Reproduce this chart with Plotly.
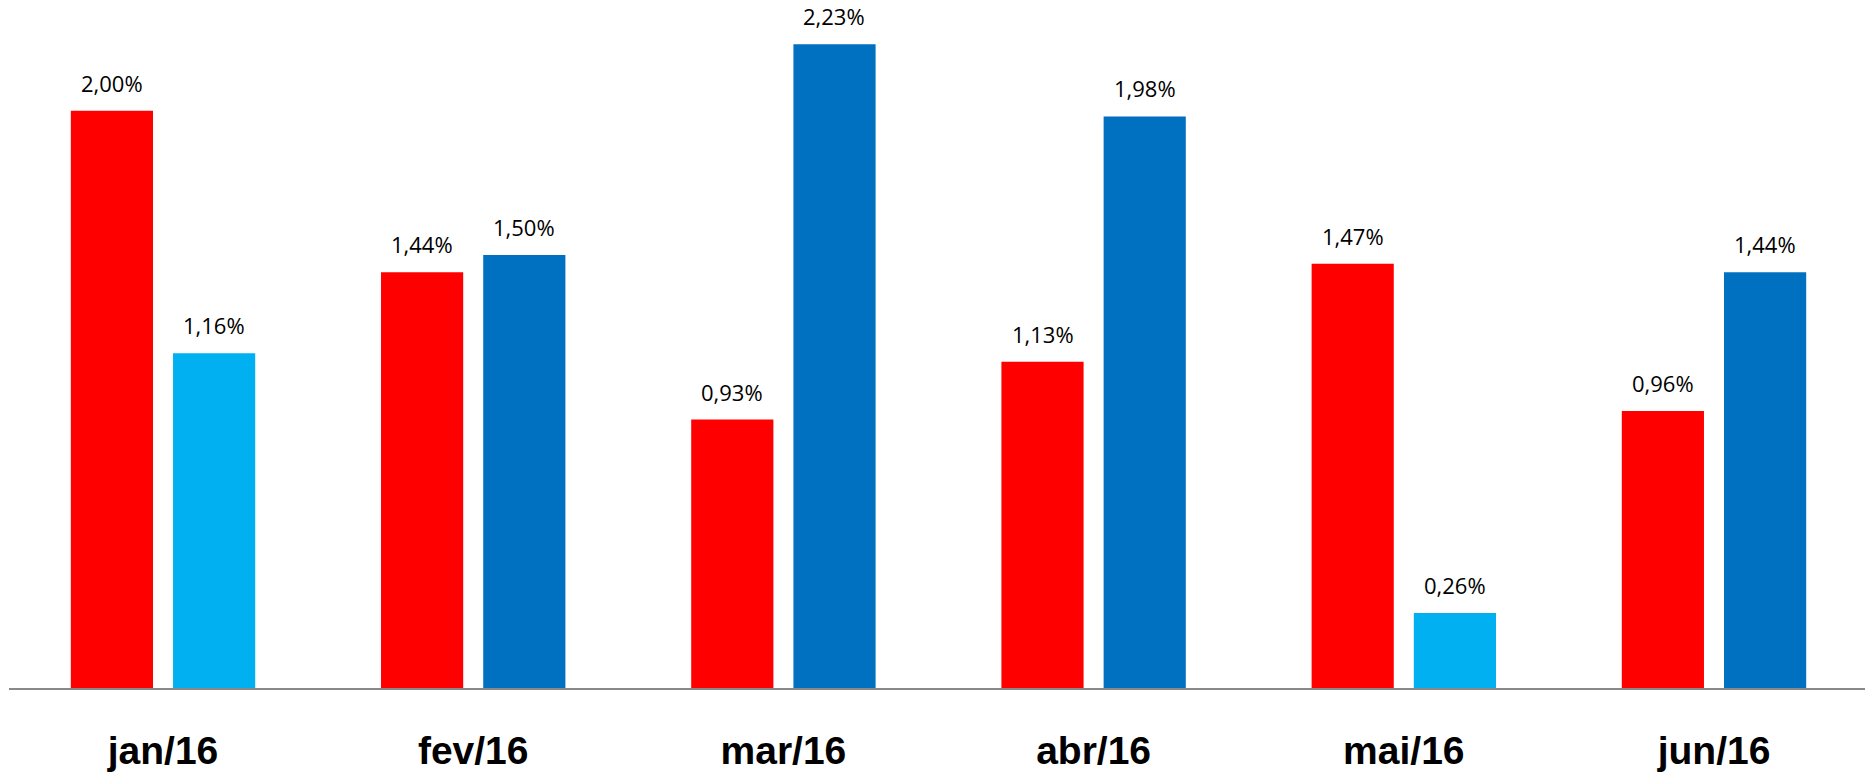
import plotly.graph_objects as go

categories = ["jan/16", "fev/16", "mar/16", "abr/16", "mai/16", "jun/16"]
serie_a = [2.00, 1.44, 0.93, 1.13, 1.47, 0.96]
serie_b = [1.16, 1.50, 2.23, 1.98, 0.26, 1.44]

RED = "#FF0000"
DARK_BLUE = "#0070C0"
LIGHT_BLUE = "#00B0F0"
colors_b = [LIGHT_BLUE if b < a else DARK_BLUE for a, b in zip(serie_a, serie_b)]

def fmt(v):
    return f"{v:.2f}".replace(".", ",") + "%"

x_idx = list(range(len(categories)))

fig = go.Figure()
fig.add_trace(go.Bar(x=x_idx, y=serie_a, marker=dict(color=RED, line=dict(width=0)),
                     showlegend=False, hoverinfo="skip"))
fig.add_trace(go.Bar(x=x_idx, y=serie_b, marker=dict(color=colors_b, line=dict(width=0)),
                     showlegend=False, hoverinfo="skip"))

annotations = []
for i, (a, b) in enumerate(zip(serie_a, serie_b)):
    for v, xs in ((a, -51), (b, 51)):
        annotations.append(dict(x=i, y=v, xref="x", yref="y", text=fmt(v), showarrow=False,
                                xshift=xs, yshift=11, yanchor="bottom", xanchor="center",
                                font=dict(family="Open Sans", size=22, color="#000000")))

fig.update_layout(
    width=1865, height=772,
    margin=dict(l=9, r=0, t=0, b=84, autoexpand=False),
    paper_bgcolor="white", plot_bgcolor="white",
    barmode="group", bargap=0.341, bargroupgap=0.196,
    annotations=annotations,
    xaxis=dict(
        range=[-0.4965, 5.4868],
        tickmode="array", tickvals=x_idx, ticktext=categories,
        tickfont=dict(family="Liberation Sans", size=39, color="#000000", weight="bold"),
        showgrid=False, zeroline=False, automargin=False,
        showline=True, linecolor="#898989", linewidth=2,
        ticks="", ticklabelstandoff=27,
    ),
    yaxis=dict(range=[0, 2.3835], visible=False, showgrid=False, zeroline=False, automargin=False),
)

fig.write_html("out.html", config={"displayModeBar": False},
               post_script="document.body.style.margin='0px';document.body.style.overflow='hidden';")
